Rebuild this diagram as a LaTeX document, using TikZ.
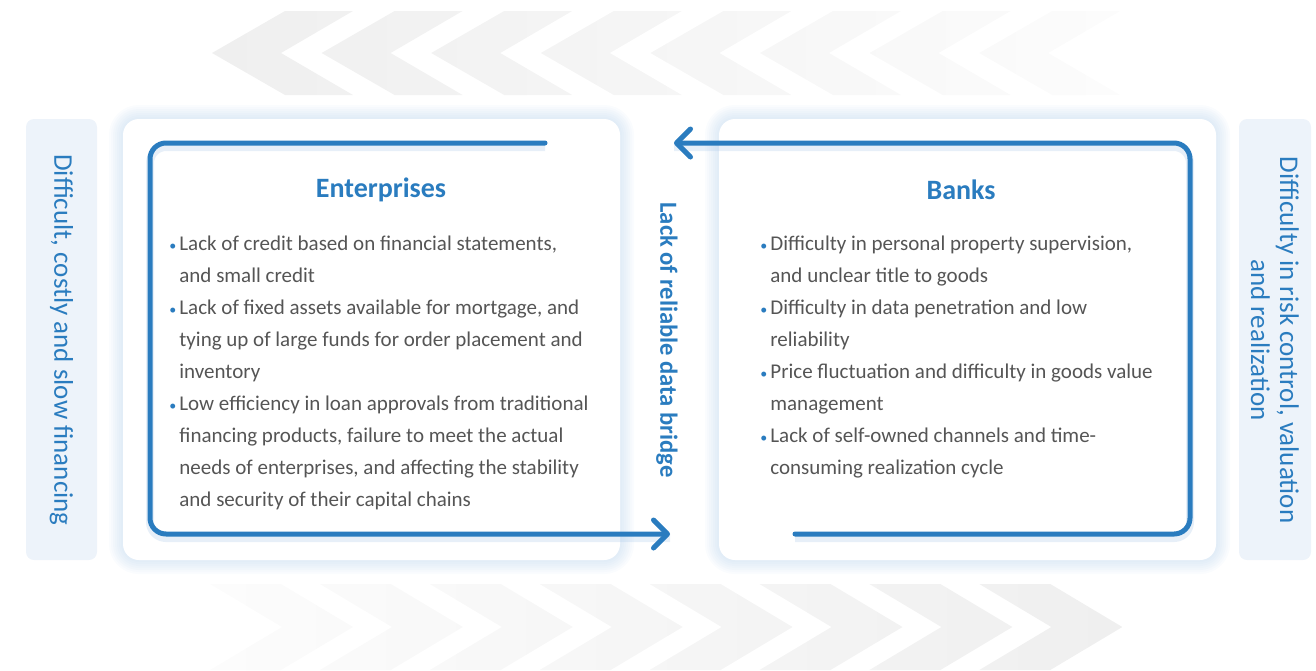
\documentclass[tikz,border=0pt]{standalone}
\usepackage{fontspec}
\setmainfont{Carlito}
\usetikzlibrary{arrows.meta}
\definecolor{bluemain}{RGB}{42,124,191}
\definecolor{textgray}{RGB}{85,85,85}
\definecolor{sidebg}{RGB}{237,243,250}
\definecolor{glowc}{RGB}{160,195,230}
\definecolor{chevdark}{RGB}{239,239,239}
\definecolor{chevlight}{RGB}{252,252,252}
\newcommand{\itm}{\makebox[5pt][l]{\textcolor{bluemain}{\scriptsize\textbullet}}}
\newcommand{\cnt}{\hspace*{5pt}}
\tikzset{
  panel/.style={fill=white, rounded corners=8pt},
  sidebar/.style={fill=sidebg, rounded corners=4pt},
  glowline/.style={draw=glowc, opacity=0.05, rounded corners=8pt},
  loopline/.style={draw=bluemain, line width=2.5pt, rounded corners=8pt, line cap=round,
    -{Straight Barb[length=7pt, width=14pt, round]}},
  loopshadow/.style={draw=glowc, line width=4pt, opacity=0.25, rounded corners=8pt,
    transform canvas={yshift=-2pt}},
  titletext/.style={text=bluemain, font=\bfseries\fontsize{14}{16}\selectfont},
  itemtext/.style={text=textgray, align=left, anchor=north west, inner sep=0pt,
    font=\fontsize{10.5}{16}\selectfont},
  sidetext/.style={text=bluemain, rotate=-90, align=center, inner sep=0pt,
    font=\fontsize{13.5}{14.5}\selectfont},
  bridgetext/.style={text=bluemain, rotate=-90, inner sep=0pt,
    font=\bfseries\fontsize{12.3}{14}\selectfont},
}
\begin{document}
\begin{tikzpicture}[x=0.5pt, y=-0.5pt]
  \useasboundingbox (0,0) rectangle (1316,670);
  % chevrons in the background
  \shade[left color=chevdark, right color=chevlight]
    \foreach \k in {0,...,7}{
      ({212+109.6*\k},53) -- ({285+109.6*\k},11) -- ({353+109.6*\k},11)
      -- ({281+109.6*\k},53) -- ({353+109.6*\k},95) -- ({285+109.6*\k},95) -- cycle
    };
  \shade[left color=chevlight, right color=chevdark]
    \foreach \k in {0,...,7}{
      ({210+109.9*\k},584) -- ({281+109.9*\k},584) -- ({353+109.9*\k},627)
      -- ({281+109.9*\k},670) -- ({210+109.9*\k},670) -- ({282+109.9*\k},627) -- cycle
    };

  \coordinate (entNW) at (123,119);
  \coordinate (entSE) at (620,560);
  \coordinate (bankNW) at (719,119);
  \coordinate (bankSE) at (1216,560);

  % side bars
  \fill[sidebar] (26,119) rectangle (97,560);
  \fill[sidebar] (1239,119) rectangle (1311,560);

  % panels with a soft glow
  \foreach \w in {4,8,...,28}{
    \draw[glowline, line width=\w*0.5pt] (entNW) rectangle (entSE);
    \draw[glowline, line width=\w*0.5pt] (bankNW) rectangle (bankSE);
  }
  \fill[panel] (entNW) rectangle (entSE);
  \fill[panel] (bankNW) rectangle (bankSE);

  % loops
  \coordinate (entStart) at (545,143);
  \coordinate (entTL) at (150,143);
  \coordinate (entBL) at (150,534);
  \coordinate (entEnd) at (670,534);
  \coordinate (bankStart) at (795,534);
  \coordinate (bankBR) at (1190,534);
  \coordinate (bankTR) at (1190,143);
  \coordinate (bankEnd) at (674,143);
  \draw[loopshadow] (entStart) -- (entTL) -- (entBL) -- (entEnd);
  \draw[loopshadow] (bankStart) -- (bankBR) -- (bankTR) -- (bankEnd);
  \draw[loopline] (entStart) -- (entTL) -- (entBL) -- (entEnd);
  \draw[loopline] (bankStart) -- (bankBR) -- (bankTR) -- (bankEnd);

  % texts
  \node[titletext] (entTitle) at (381,190) {Enterprises};
  \node[titletext] (bankTitle) at (961,190) {Banks};
  \node[itemtext] (entItems) at (169,236) {%
    \itm Lack of credit based on financial statements,\\
    \cnt and small credit\\
    \itm Lack of fixed assets available for mortgage, and\\
    \cnt tying up of large funds for order placement and\\
    \cnt inventory\\
    \itm Low efficiency in loan approvals from traditional\\
    \cnt financing products, failure to meet the actual\\
    \cnt needs of enterprises, and affecting the stability\\
    \cnt and security of their capital chains};
  \node[itemtext] (bankItems) at (760,236) {%
    \itm Difficulty in personal property supervision,\\
    \cnt and unclear title to goods\\
    \itm Difficulty in data penetration and low\\
    \cnt reliability\\
    \itm Price fluctuation and difficulty in goods value\\
    \cnt management\\
    \itm Lack of self-owned channels and time-\\
    \cnt consuming realization cycle};
  \node[bridgetext] (bridge) at (667,340) {Lack of reliable data bridge};
  \node[sidetext] (entSide) at (61.5,340) {Difficult, costly and slow financing};
  \node[sidetext] (bankSide) at (1275,340) {Difficulty in risk control, valuation\\and realization};
\end{tikzpicture}
\end{document}
